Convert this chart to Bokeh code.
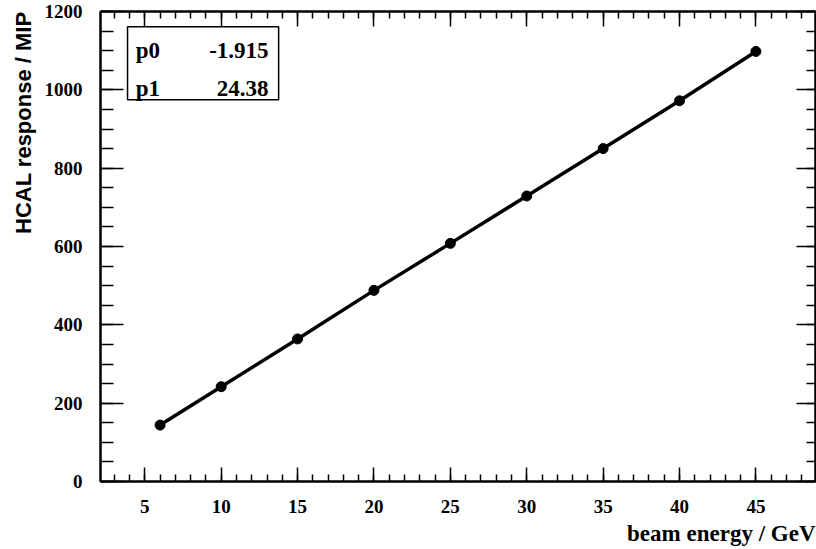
from bokeh.plotting import figure
from bokeh.models import (LinearAxis, SingleIntervalTicker, Label, BoxAnnotation,
                          CustomJSTickFormatter, Range1d, ColumnDataSource, Title)
from bokeh.embed import file_html
from bokeh.resources import INLINE

# ---- data ----
beam_energy = [6, 10, 15, 20, 25, 30, 35, 40, 45]
hcal_response = [144, 242, 364, 488, 608, 729, 850, 972, 1098]
fit_names = ["p0", "p1"]
fit_values = ["-1.915", "24.38"]
x_label = "beam energy / GeV"
y_label = "HCAL response / MIP"

SERIF = "Liberation Serif"
SANS = "Liberation Sans"

p = figure(width=816, height=549, output_backend="svg", toolbar_location=None,
           x_range=Range1d(2.1, 48.9), y_range=Range1d(0, 1200),
           min_border_left=100, min_border_right=1, min_border_top=11,
           min_border_bottom=68, background_fill_color="white",
           border_fill_color="white")
p.grid.visible = False
p.outline_line_color = "black"
p.outline_line_width = 2

xt = SingleIntervalTicker(interval=5, num_minor_ticks=5)
yt = SingleIntervalTicker(interval=200, num_minor_ticks=4)


def style(ax, major_in, minor_in, labels=True):
    ax.axis_line_color = "black"
    ax.axis_line_width = 2
    ax.major_tick_line_color = "black"
    ax.minor_tick_line_color = "black"
    ax.major_tick_line_width = 1.5
    ax.minor_tick_line_width = 1.5
    ax.major_tick_in = major_in
    ax.major_tick_out = 0
    ax.minor_tick_in = minor_in
    ax.minor_tick_out = 0
    if labels:
        ax.major_label_text_font = SERIF
        ax.major_label_text_font_style = "bold"
        ax.major_label_text_font_size = "19px"
        ax.major_label_text_color = "black"
    else:
        ax.formatter = CustomJSTickFormatter(code="return ''")
        ax.major_label_text_font_size = "0px"
        ax.major_label_standoff = 0
        ax.axis_label_standoff = 0


xa = p.xaxis[0]
xa.ticker = xt
style(xa, 14, 7)
xa.major_label_standoff = 18

ya = p.yaxis[0]
ya.ticker = yt
style(ya, 23, 13)
ya.major_label_standoff = 18

top = LinearAxis(ticker=SingleIntervalTicker(interval=5, num_minor_ticks=5))
style(top, 15, 7, labels=False)
p.add_layout(top, "above")

right = LinearAxis(ticker=SingleIntervalTicker(interval=200, num_minor_ticks=4))
style(right, 19, 9, labels=False)
p.add_layout(right, "right")

src = ColumnDataSource(dict(x=beam_energy, y=hcal_response))
p.line("x", "y", source=src, line_color="black", line_width=3.5)
p.scatter("x", "y", source=src, size=10, color="black")

# stats box
p.add_layout(BoxAnnotation(left=3.87, right=13.76, top=1161, bottom=975,
                           fill_color="white", fill_alpha=1.0,
                           line_color="black", line_width=1.5, line_alpha=1.0))
rows_y = [1100, 1004]
for name, val, yy in zip(fit_names, fit_values, rows_y):
    p.add_layout(Label(x=4.4, y=yy, text=name, text_align="left",
                       text_baseline="alphabetic", text_font=SERIF,
                       text_font_style="bold", text_font_size="23px",
                       text_color="black"))
    p.add_layout(Label(x=13.1, y=yy, text=val, text_align="right",
                       text_baseline="alphabetic", text_font=SERIF,
                       text_font_style="bold", text_font_size="23px",
                       text_color="black"))

# axis titles
p.add_layout(Title(text=x_label, align="right", offset=0, standoff=6,
                   text_font=SERIF, text_font_style="bold",
                   text_font_size="23px", text_color="black"), "below")
p.add_layout(Title(text=y_label, align="right", offset=0, standoff=12,
                   text_font=SANS, text_font_style="bold",
                   text_font_size="22px", text_color="black"), "left")

open("out.html", "w").write(file_html(p, INLINE))
